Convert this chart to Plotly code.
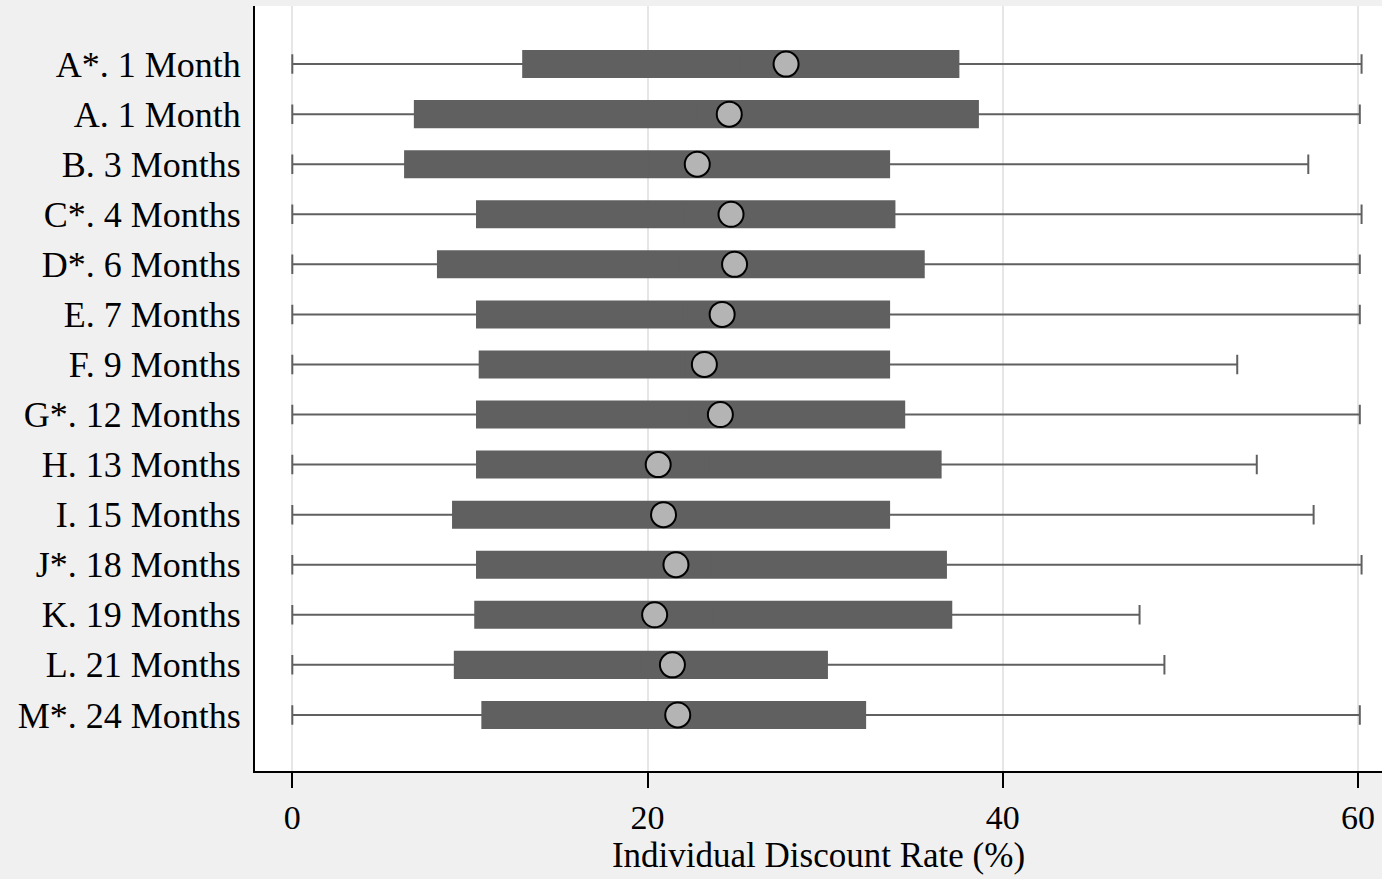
import plotly.graph_objects as go

categories = ["A*. 1 Month", "A. 1 Month", "B. 3 Months", "C*. 4 Months", "D*. 6 Months",
              "E. 7 Months", "F. 9 Months", "G*. 12 Months", "H. 13 Months", "I. 15 Months",
              "J*. 18 Months", "K. 19 Months", "L. 21 Months", "M*. 24 Months"]
lower = [0, 0, 0, 0, 0, 0, 0, 0, 0, 0, 0, 0, 0, 0]
q1 = [13.0, 6.9, 6.35, 10.4, 8.2, 10.4, 10.55, 10.4, 10.4, 9.05, 10.4, 10.3, 9.15, 10.7]
q3 = [37.5, 38.6, 33.6, 33.9, 35.55, 33.6, 33.6, 34.45, 36.5, 33.6, 36.8, 37.1, 30.1, 32.25]
upper = [60.2, 60.1, 57.2, 60.2, 60.1, 60.1, 53.2, 60.1, 54.3, 57.5, 60.2, 47.7, 49.1, 60.1]
means = [27.8, 24.6, 22.8, 24.7, 24.9, 24.2, 23.2, 24.1, 20.6, 20.9, 21.6, 20.4, 21.4, 21.7]
xticks = [0, 20, 40, 60]

medians = [(a + b) / 2 for a, b in zip(q1, q3)]
ypos = list(range(len(categories)))

fig = go.Figure()
fig.add_trace(go.Box(
    y=ypos, q1=q1, median=medians, q3=q3, lowerfence=lower, upperfence=upper,
    orientation="h", width=0.52, whiskerwidth=0.75,
    line=dict(color="#606060", width=2), fillcolor="#606060",
    boxpoints=False, showlegend=False, hoverinfo="skip"))
fig.add_trace(go.Scatter(
    x=means, y=ypos, mode="markers",
    marker=dict(size=25, color="#b4b4b4", line=dict(color="black", width=2)),
    showlegend=False))

fig.update_layout(
    width=1382, height=879,
    margin=dict(l=255, r=0, t=6, b=108),
    paper_bgcolor="#f0f0f0", plot_bgcolor="white",
    font=dict(family="Liberation Serif", size=36, color="black"),
    xaxis=dict(range=[-2.1, 61.35], tickvals=xticks, ticks="outside", ticklen=15,
               tickwidth=2, tickcolor="black", showline=True, linecolor="black", linewidth=2,
               showgrid=True, gridcolor="#e6e6e6", gridwidth=2, zeroline=False,
               title=dict(text="Individual Discount Rate (%)", standoff=0, font=dict(size=35)),
               tickfont=dict(size=34)),
    yaxis=dict(range=[13 + 1.12, -1.16], tickvals=ypos, ticktext=categories,
               showline=True, linecolor="black", linewidth=2, showgrid=False,
               zeroline=False, ticks="", ticklabelstandoff=5, tickfont=dict(size=36)),
)
fig.write_html("out.html", config={"displayModeBar": False},
               post_script="document.body.style.margin='0';document.body.style.background='#f0f0f0';document.documentElement.style.overflow='hidden';")
